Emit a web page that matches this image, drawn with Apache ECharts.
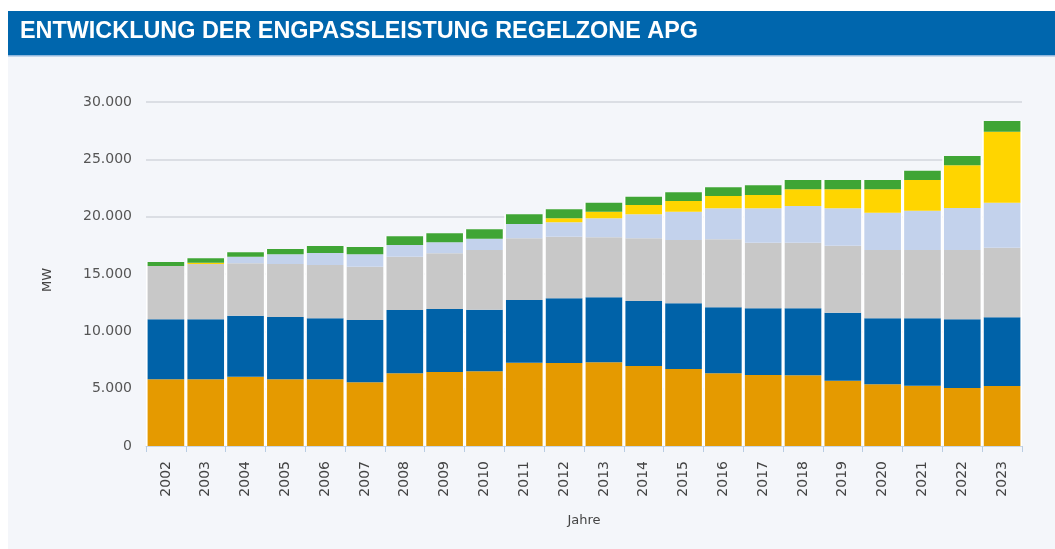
<!DOCTYPE html>
<html>
<head>
<meta charset="utf-8">
<script src="https://cdn.jsdelivr.net/npm/echarts@6/dist/echarts.min.js"></script>
<style>
  html, body { margin: 0; padding: 0; background: #ffffff; }
  #chart { width: 1055px; height: 549px; }
</style>
</head>
<body>
<div id="chart"></div>
<script>
// Engpassleistung der Regelzone APG in MW, nach Erzeugungsart
const years = ['2002','2003','2004','2005','2006','2007','2008','2009','2010','2011','2012',
               '2013','2014','2015','2016','2017','2018','2019','2020','2021','2022','2023'];
const waerme     = [5820,5820,6040,5820,5820,5560,6340,6450,6510,7270,7240,7300,6980,6720,6340,6190,6170,5700,5380,5260,5060,5230];
const laufkraft  = [5230,5230,5320,5430,5320,5430,5520,5500,5380,5460,5640,5670,5670,5720,5760,5820,5840,5930,5760,5880,5990,5990];
const speicher   = [4650,4820,4570,4620,4650,4650,4650,4860,5200,5380,5370,5230,5460,5530,5930,5720,5720,5840,5950,5950,6040,6070];
const wind       = [0,0,580,850,1040,1080,1020,950,990,1250,1260,1660,2100,2460,2700,3000,3200,3260,3260,3430,3670,3930];
const photovolt  = [0,120,0,0,0,0,0,0,0,0,350,570,810,940,1070,1160,1460,1660,2040,2680,3720,6190];
const sonstige   = [350,380,380,460,610,630,760,790,820,840,780,790,720,750,760,840,810,810,810,810,810,930];
const yTicks     = [0,5000,10000,15000,20000,25000,30000];

const titleText = 'ENTWICKLUNG DER ENGPASSLEISTUNG REGELZONE APG';

// Gesamtleistung je Jahr: weiße Hinterlegung, damit zwischen den Säulen helle Fugen stehen
const parts = [waerme, laufkraft, speicher, wind, photovolt, sonstige];
const totals = years.map((_, i) => parts.reduce((s, arr) => s + arr[i], 0));

const chart = echarts.init(document.getElementById('chart'), null, { renderer: 'canvas' });

function stack(name, data, color) {
  return {
    name, type: 'bar', stack: 'total', data,
    xAxisIndex: 0,
    barCategoryGap: '8%',
    itemStyle: { color },
    z: 3,
    emphasis: { disabled: true }
  };
}

const fontUi = 'DejaVu Sans, sans-serif';

chart.setOption({
  backgroundColor: '#ffffff',
  animation: false,
  graphic: [
    { type: 'rect', silent: true, z: -10,
      shape: { x: 8, y: 56, width: 1047, height: 493 },
      style: { fill: '#f4f6fa' } },
    { type: 'rect', silent: true, z: 0,
      shape: { x: 8, y: 11, width: 1047, height: 44 },
      style: { fill: '#0066ad' } },
    { type: 'rect', silent: true, z: 0,
      shape: { x: 8, y: 55, width: 1047, height: 1.5 },
      style: { fill: '#8fb6dc' } },
    { type: 'text', silent: true, z: 1, left: 20, top: 20,
      style: { text: titleText, fill: '#ffffff',
               font: 'bold 23.4px "Liberation Sans", Arial, sans-serif' } }
  ],
  grid: { left: 146, right: 33, top: 102, bottom: 103, containLabel: false },
  xAxis: [{
    type: 'category',
    data: years,
    name: 'Jahre',
    nameLocation: 'middle',
    nameGap: 68,
    nameTextStyle: { color: '#444', fontSize: 13, fontFamily: fontUi },
    axisLine: { show: true, lineStyle: { color: '#c9d6e6', width: 1 } },
    axisTick: { show: true, length: 6, lineStyle: { color: '#b9cde3' } },
    axisLabel: { rotate: 90, color: '#444', fontSize: 14, margin: 15, fontFamily: fontUi }
  }, {
    type: 'category',
    data: years,
    show: false
  }],
  yAxis: {
    type: 'value',
    min: 0, max: 30000, interval: 5000,
    name: 'MW',
    nameLocation: 'middle',
    nameGap: 92,
    nameRotate: 90,
    nameTextStyle: { color: '#444', fontSize: 13, fontFamily: fontUi, padding: [0, 0, 0, -12] },
    axisLine: { show: false },
    axisTick: { show: false },
    splitLine: { show: true, lineStyle: { color: '#d3d6dc', width: 1.5 } },
    axisLabel: {
      color: '#555', fontSize: 14, margin: 14, fontFamily: fontUi,
      formatter: v => yTicks.includes(v) ? v.toLocaleString('de-DE') : ''
    }
  },
  series: [
    {
      name: 'Hinterlegung', type: 'bar', data: totals,
      xAxisIndex: 1, barCategoryGap: '0%',
      itemStyle: { color: '#ffffff' },
      z: 1, silent: true,
      emphasis: { disabled: true }
    },
    stack('Wärmekraft', waerme, '#e59a00'),
    stack('Laufkraft', laufkraft, '#0062a8'),
    stack('Speicherkraft', speicher, '#c8c8c8'),
    stack('Wind', wind, '#c3d2ec'),
    stack('Photovoltaik', photovolt, '#ffd500'),
    stack('Sonstige', sonstige, '#3fa535')
  ]
});
</script>
</body>
</html>
